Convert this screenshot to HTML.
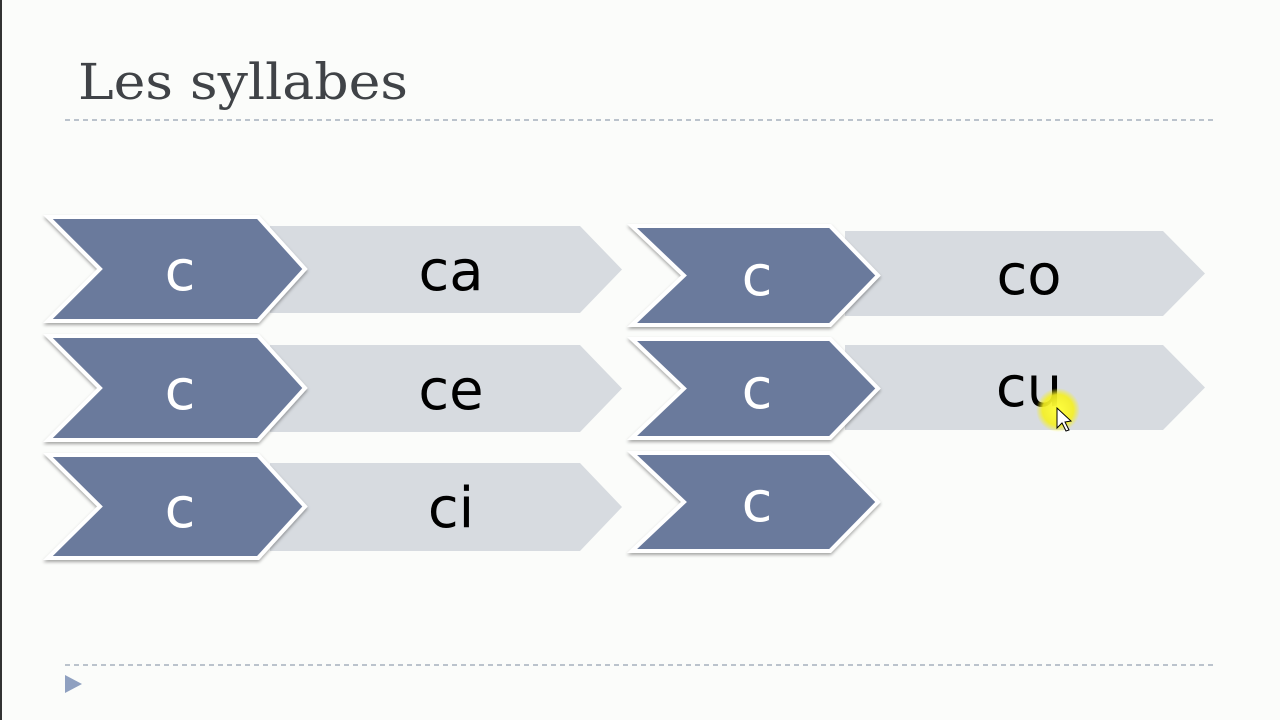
<!DOCTYPE html>
<html><head><meta charset="utf-8"><style>
body{margin:0;background:#fbfcfa;}
svg{display:block}
</style></head><body>
<svg width="1280" height="720" xmlns="http://www.w3.org/2000/svg">
<defs>
<filter id="sh" x="-10%" y="-10%" width="120%" height="130%"><feDropShadow dx="0" dy="2" stdDeviation="1.5" flood-color="#000" flood-opacity="0.35"/></filter>
<radialGradient id="yl"><stop offset="0" stop-color="#ffff40"/><stop offset="0.7" stop-color="#f5f020" stop-opacity="0.9"/><stop offset="1" stop-color="#f5f020" stop-opacity="0"/></radialGradient>
</defs>
<rect width="1280" height="720" fill="#fbfcfa"/>
<rect x="0" y="0" width="2" height="720" fill="#333"/>
<text x="78" y="99" font-family="DejaVu Serif, serif" font-size="50" fill="#404347" textLength="330" lengthAdjust="spacingAndGlyphs">Les syllabes</text>
<line x1="65" y1="120" x2="1215" y2="120" stroke="#a6b0bd" stroke-width="1.5" stroke-dasharray="5,4"/>
<line x1="65" y1="665" x2="1215" y2="665" stroke="#a6b0bd" stroke-width="1.5" stroke-dasharray="5,4"/>
<polygon points="65,675 82,684 65,693" fill="#8fa0c0"/>
<g font-family="DejaVu Sans, sans-serif" font-size="56" text-anchor="middle">
<g fill="#d7dbe0">
<polygon points="270,226 580,226 622,269.5 580,313 270,313"/>
<polygon points="270,345 580,345 622,388.5 580,432 270,432"/>
<polygon points="270,463 580,463 622,507 580,551 270,551"/>
<polygon points="845,231 1163,231 1205,273.5 1163,316 845,316"/>
<polygon points="845,345 1163,345 1205,387.5 1163,430 845,430"/>
</g>
<g fill="#000">
<text x="451" y="290">ca</text>
<text x="451" y="409">ce</text>
<text x="451" y="527">ci</text>
<text x="1029" y="294">co</text>
<text x="1029" y="406">cu</text>
</g>
<g fill="#6b7a9c" stroke="#fff" stroke-width="4" filter="url(#sh)">
<polygon points="48,217 258,217 305,269 258,321 48,321 100,269"/>
<polygon points="48,336 258,336 305,388 258,440 48,440 100,388"/>
<polygon points="48,455 258,455 305,506.5 258,558 48,558 100,506.5"/>
<polygon points="632,226 830,226 878,275.5 830,325 632,325 684,275.5"/>
<polygon points="632,339 830,339 878,388.5 830,438 632,438 684,388.5"/>
<polygon points="632,453 830,453 878,502 830,551 632,551 684,502"/>
</g>
<g fill="#fff">
<text x="180" y="290">c</text>
<text x="180" y="409">c</text>
<text x="180" y="527">c</text>
<text x="757" y="295">c</text>
<text x="757" y="408">c</text>
<text x="757" y="521">c</text>
</g>
</g>
<circle cx="1058" cy="410" r="22" fill="url(#yl)"/>
<polygon points="1057,408 1057,428 1062,423 1066,431 1069,430 1065,422 1071,421" fill="#fff" stroke="#000" stroke-width="1"/>
</svg>
</body></html>
